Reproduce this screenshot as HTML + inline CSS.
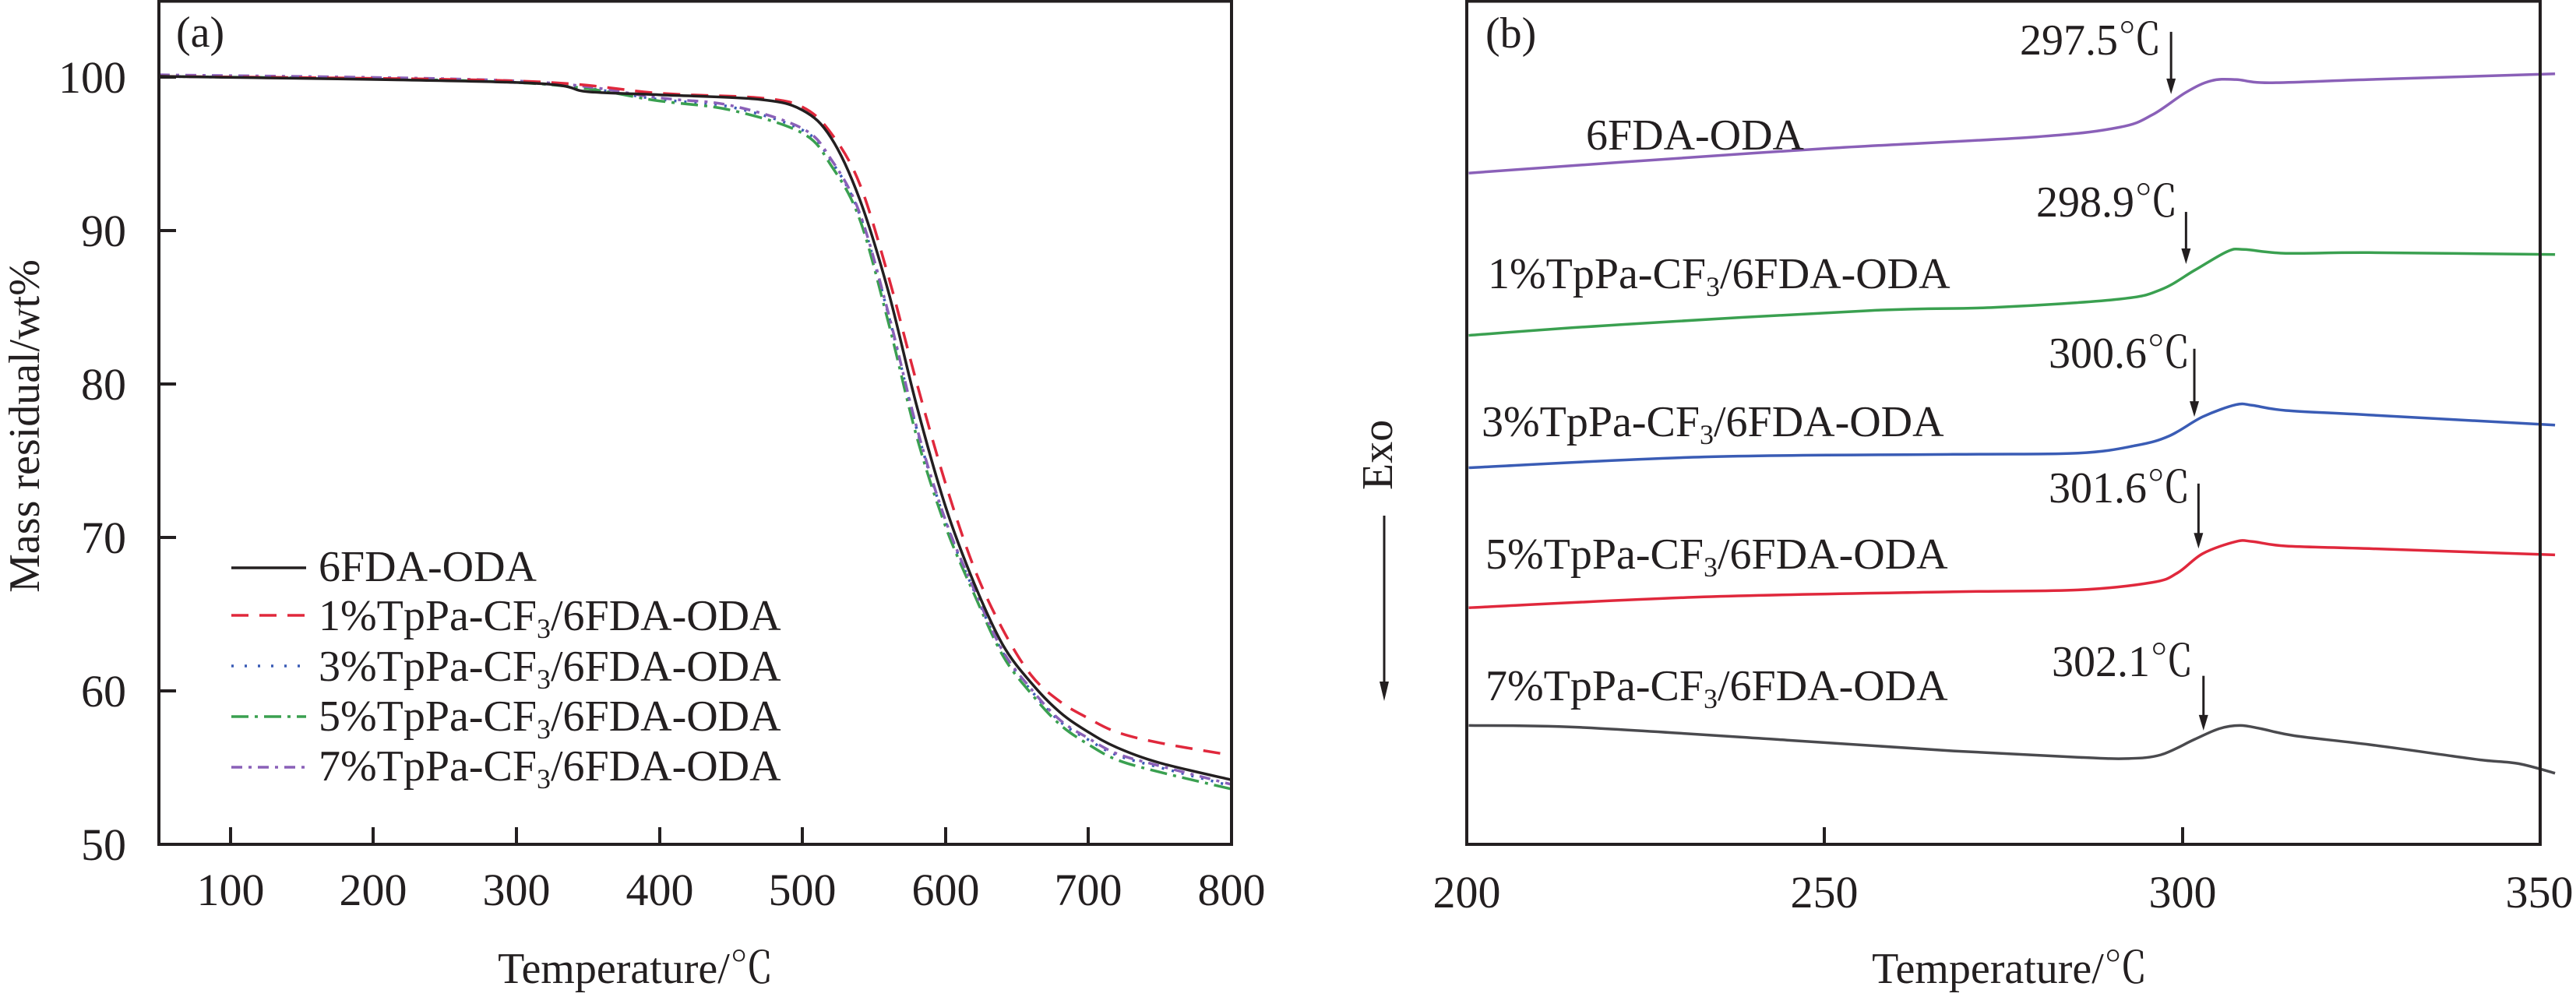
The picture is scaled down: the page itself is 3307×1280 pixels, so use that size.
<!DOCTYPE html>
<html><head><meta charset="utf-8"><style>
html,body{margin:0;padding:0;background:#fff;}
svg, svg text{font-family:"Liberation Serif","Noto Serif CJK SC",serif;}
</style></head><body>
<svg id="s" width="3307" height="1275" viewBox="0 0 3307 1275" xmlns="http://www.w3.org/2000/svg" font-family="Liberation Serif, Noto Serif CJK SC, serif">
<rect width="3307" height="1275" fill="#fff"/>
<g id="curves"></g>
<rect x="204" y="1.5" width="1377" height="1082.5" fill="none" stroke="#231f20" stroke-width="4"/>
<g stroke="#231f20" stroke-width="4">
<line x1="296" y1="1084" x2="296" y2="1062"/><line x1="479" y1="1084" x2="479" y2="1062"/>
<line x1="663" y1="1084" x2="663" y2="1062"/><line x1="847" y1="1084" x2="847" y2="1062"/>
<line x1="1030" y1="1084" x2="1030" y2="1062"/><line x1="1214" y1="1084" x2="1214" y2="1062"/>
<line x1="1397" y1="1084" x2="1397" y2="1062"/>
<line x1="204" y1="887" x2="226" y2="887"/><line x1="204" y1="690" x2="226" y2="690"/>
<line x1="204" y1="493" x2="226" y2="493"/><line x1="204" y1="296" x2="226" y2="296"/>
<line x1="204" y1="99" x2="226" y2="99"/>
</g>
<g font-size="58" fill="#231f20" text-anchor="middle">
<text x="296" y="1162">100</text><text x="479" y="1162">200</text><text x="663" y="1162">300</text>
<text x="847" y="1162">400</text><text x="1030" y="1162">500</text><text x="1214" y="1162">600</text>
<text x="1397" y="1162">700</text><text x="1581" y="1162">800</text>
</g>
<g font-size="58" fill="#231f20" text-anchor="end">
<text x="162" y="1104">50</text><text x="162" y="907">60</text><text x="162" y="710">70</text>
<text x="162" y="513">80</text><text x="162" y="316">90</text><text x="162" y="119">100</text>
</g>
<text x="226" y="60" font-size="56" fill="#231f20">(a)</text>
<text x="816" y="1262" font-size="56" fill="#231f20" text-anchor="middle">Temperature/℃</text>
<text transform="translate(50,547) rotate(-90)" font-size="56" fill="#231f20" text-anchor="middle">Mass residual/wt%</text>
<g stroke-width="3.5" fill="none">
<line x1="297" y1="729" x2="393" y2="729" stroke="#231f20"/>
<line x1="297" y1="790" x2="393" y2="790" stroke="#e0283c" stroke-dasharray="22,14"/>
<line x1="297" y1="855" x2="393" y2="855" stroke="#3a5cb5" stroke-dasharray="3,14"/>
<line x1="297" y1="920" x2="393" y2="920" stroke="#3aa050" stroke-dasharray="22,8,4,8"/>
<line x1="297" y1="985" x2="393" y2="985" stroke="#8a60b8" stroke-dasharray="14,8,4,8"/>
</g>
<g font-size="56" fill="#231f20">
<text x="409" y="746">6FDA-ODA</text>
<text x="409" y="809">1%TpPa-CF<tspan font-size="36" dy="10">3</tspan><tspan dy="-10">/6FDA-ODA</tspan></text>
<text x="409" y="874">3%TpPa-CF<tspan font-size="36" dy="10">3</tspan><tspan dy="-10">/6FDA-ODA</tspan></text>
<text x="409" y="938">5%TpPa-CF<tspan font-size="36" dy="10">3</tspan><tspan dy="-10">/6FDA-ODA</tspan></text>
<text x="409" y="1002">7%TpPa-CF<tspan font-size="36" dy="10">3</tspan><tspan dy="-10">/6FDA-ODA</tspan></text>
</g>
<rect x="1883" y="1.5" width="1378" height="1082.5" fill="none" stroke="#231f20" stroke-width="4"/>
<g stroke="#231f20" stroke-width="4">
<line x1="2342" y1="1084" x2="2342" y2="1062"/><line x1="2802" y1="1084" x2="2802" y2="1062"/>
</g>
<g font-size="58" fill="#231f20" text-anchor="middle">
<text x="1883" y="1165">200</text><text x="2342" y="1165">250</text><text x="2802" y="1165">300</text><text x="3260" y="1165">350</text>
</g>
<text x="2580" y="1262" font-size="56" fill="#231f20" text-anchor="middle">Temperature/℃</text>
<text x="1907" y="61" font-size="56" fill="#231f20">(b)</text>
<text transform="translate(1787,584) rotate(-90)" font-size="56" fill="#231f20" text-anchor="middle">Exo</text>
<line x1="1777" y1="662" x2="1777" y2="880" stroke="#231f20" stroke-width="3"/>
<polygon points="1771,875 1783,875 1777,900" fill="#231f20"/>
<g font-size="56" fill="#231f20">
<text x="2036" y="192">6FDA-ODA</text>
<text x="1910" y="370">1%TpPa-CF<tspan font-size="36" dy="10">3</tspan><tspan dy="-10">/6FDA-ODA</tspan></text>
<text x="1902" y="560">3%TpPa-CF<tspan font-size="36" dy="10">3</tspan><tspan dy="-10">/6FDA-ODA</tspan></text>
<text x="1907" y="730">5%TpPa-CF<tspan font-size="36" dy="10">3</tspan><tspan dy="-10">/6FDA-ODA</tspan></text>
<text x="1907" y="899">7%TpPa-CF<tspan font-size="36" dy="10">3</tspan><tspan dy="-10">/6FDA-ODA</tspan></text>
<text x="2593" y="70">297.5℃</text>
<text x="2614" y="278">298.9℃</text>
<text x="2630" y="472">300.6℃</text>
<text x="2630" y="645">301.6℃</text>
<text x="2634" y="868">302.1℃</text>
</g>
<g id="arrows"></g>
</svg>
<script>
var NS="http://www.w3.org/2000/svg";
function mk(tag,attrs,parent){var e=document.createElementNS(NS,tag);for(var k in attrs)e.setAttribute(k,attrs[k]);parent.appendChild(e);return e;}
var cg=document.getElementById("curves");
function path(pts){var d="M"+pts[0][0].toFixed(1)+","+pts[0][1].toFixed(1);
for(var i=0;i<pts.length-1;i++){var p0=pts[i-1]||pts[i],p1=pts[i],p2=pts[i+1],p3=pts[i+2]||p2;
var c1=[p1[0]+(p2[0]-p0[0])/6,p1[1]+(p2[1]-p0[1])/6],c2=[p2[0]-(p3[0]-p1[0])/6,p2[1]-(p3[1]-p1[1])/6];
d+="C"+c1[0].toFixed(1)+","+c1[1].toFixed(1)+" "+c2[0].toFixed(1)+","+c2[1].toFixed(1)+" "+p2[0].toFixed(1)+","+p2[1].toFixed(1);}return d;}
function L(data){return data.map(function(p){return [204+(p[0]-50)*1.836,1084-(p[1]-50)*19.72];});}
function R(data){return data.map(function(p){return [1654+p[0]*1.067,p[1]*0.817];});}
var others=[[50,100],[300,99.6],[400,98.5],[450,98],[500,96.5],[520,94.5],[540,91],[560,84.5],[580,77],[600,71],[620,66.5],[640,62.5],[660,60],[680,58],[700,56.8],[720,55.8],[750,55],[800,53.8]];
var green=[[50,100],[300,99.6],[400,98.4],[450,97.8],[500,96.3],[520,94.2],[540,90.7],[560,84],[580,76.5],[600,70.7],[620,66.3],[640,62.3],[660,59.8],[680,57.8],[700,56.5],[720,55.5],[750,54.7],[800,53.6]];
var black=[[50,100],[300,99.6],[350,99.0],[400,98.8],[470,98.5],[500,97.8],[520,96],[540,92],[560,86],[580,78.5],[600,72],[620,67],[640,63],[660,60.5],[680,58.6],[700,57.3],[720,56.3],[750,55.3],[800,54.2]];
var red=[[50,100],[300,99.7],[400,98.9],[470,98.6],[500,98],[520,96.3],[540,93],[560,87],[580,80],[600,73.5],[620,68],[640,64],[660,61],[680,59.3],[700,58.2],[720,57.3],[750,56.6],[800,55.8]];
mk("path",{d:path(L(others)),fill:"none",stroke:"#3a5cb5","stroke-width":3.5,"stroke-dasharray":"3,10"},cg);
mk("path",{d:path(L(green)),fill:"none",stroke:"#3aa050","stroke-width":3.5,"stroke-dasharray":"22,8,4,8"},cg);
mk("path",{d:path(L(others.map(function(p){return [p[0],p[1]+0.1];}))),fill:"none",stroke:"#8a60b8","stroke-width":3.5,"stroke-dasharray":"14,8,4,8"},cg);
mk("path",{d:path(L(red)),fill:"none",stroke:"#e0283c","stroke-width":3.5,"stroke-dasharray":"22,14"},cg);
mk("path",{d:path(L(black)),fill:"none",stroke:"#231f20","stroke-width":3.5},cg);
var rc=[
["#8a60b8",[[217,272],[400,255],[650,233],[900,215],[1000,200],[1040,180],[1080,145],[1110,127],[1140,125],[1180,130],[1300,125],[1524,116]]],
["#3aa050",[[217,527],[400,510],[700,488],[850,483],[1000,470],[1050,455],[1090,425],[1130,395],[1150,392],[1200,398],[1300,397],[1524,400]]],
["#3a5cb5",[[217,735],[500,718],[800,714],[950,712],[1020,700],[1060,685],[1100,655],[1140,636],[1160,637],[1200,645],[1300,652],[1524,668]]],
["#e0283c",[[217,955],[500,938],[800,930],[950,927],[1040,915],[1070,900],[1100,870],[1140,851],[1160,851],[1200,858],[1300,862],[1524,872]]],
["#4a4a4e",[[217,1140],[350,1143],[600,1163],[800,1180],[950,1190],[1010,1192],[1050,1186],[1090,1162],[1120,1145],[1145,1140],[1170,1145],[1210,1156],[1300,1170],[1400,1188],[1440,1195],[1480,1200],[1524,1215]]]];
rc.forEach(function(c){mk("path",{d:path(R(c[1])),fill:"none",stroke:c[0],"stroke-width":3.5},cg);});
var ag=document.getElementById("arrows");
[[1062,50,148],[1080,333,415],[1090,548,655],[1095,760,862],[1101,1062,1148]].forEach(function(a){
var x=1654+a[0]*1.067,y1=a[1]*0.817,y2=a[2]*0.817;
mk("line",{x1:x,y1:y1,x2:x,y2:y2-14,stroke:"#231f20","stroke-width":3},ag);
mk("polygon",{points:(x-6)+","+(y2-20)+" "+(x+6)+","+(y2-20)+" "+x+","+y2,fill:"#231f20"},ag);});
</script>
</body></html>
